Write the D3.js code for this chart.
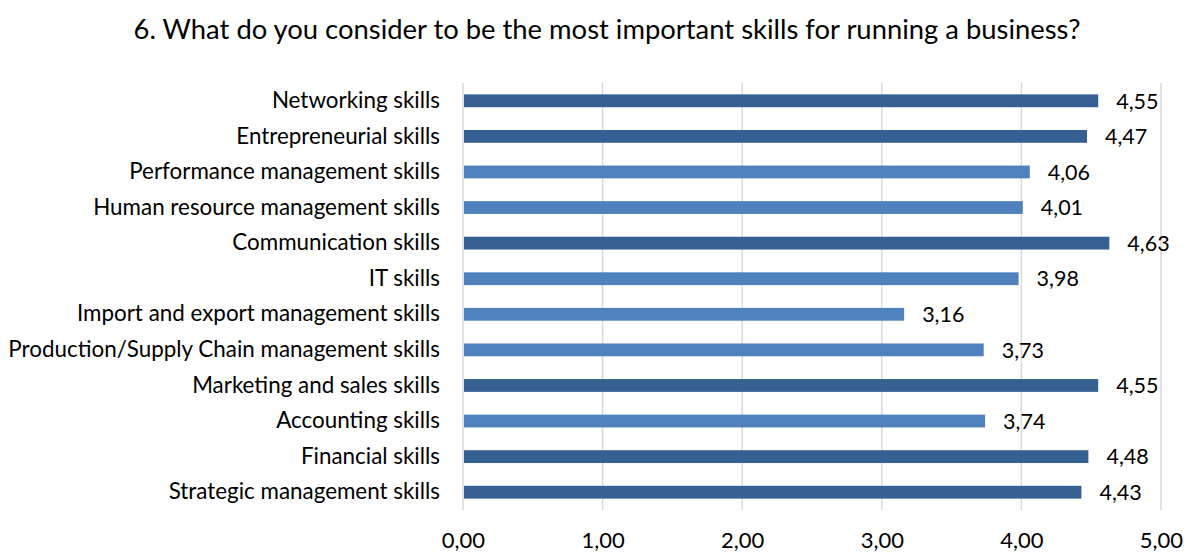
<!DOCTYPE html>
<html>
<head>
<meta charset="utf-8">
<script src="https://cdn.jsdelivr.net/npm/d3@7"></script>
<style>
  html, body { margin: 0; padding: 0; background: #fff; }
  svg { display: block; font-family: Lato, "Liberation Sans", sans-serif; }
</style>
</head>
<body>
<svg id="chart" width="1184" height="552"></svg>
<script>
const title = "6. What do you consider to be the most important skills for running a business?";
const skills = [
  "Networking skills",
  "Entrepreneurial skills",
  "Performance management skills",
  "Human resource management skills",
  "Communication skills",
  "IT skills",
  "Import and export management skills",
  "Production/Supply Chain management skills",
  "Marketing and sales skills",
  "Accounting skills",
  "Financial skills",
  "Strategic management skills"
];
const scores = [4.55, 4.47, 4.06, 4.01, 4.63, 3.98, 3.16, 3.73, 4.55, 3.74, 4.48, 4.43];
const tickValues = [0, 1, 2, 3, 4, 5];

const data = skills.map((s, i) => ({ skill: s, value: scores[i] }));
const fmt = v => d3.format(".2f")(v).replace(".", ",");

const svg = d3.select("#chart");
const margin = { left: 463, right: 23, top: 83, bottom: 42 };
const W = 1184, H = 552;

const x = d3.scaleLinear().domain([0, 5]).range([margin.left, W - margin.right]);
const y = d3.scaleBand().domain(skills).range([margin.top, H - margin.bottom]).paddingInner(0.64).paddingOuter(0.32);

// title
svg.append("text")
  .attr("x", 607).attr("y", 39)
  .attr("text-anchor", "middle")
  .attr("font-size", 27.4)
  .attr("fill", "#000")
  .text(title);

// vertical gridlines
svg.append("g").selectAll("line")
  .data(tickValues)
  .join("line")
  .attr("x1", d => x(d)).attr("x2", d => x(d))
  .attr("y1", margin.top).attr("y2", H - margin.bottom)
  .attr("stroke", "#d9d9d9")
  .attr("stroke-width", 1.5);

// bars
svg.append("g").selectAll("rect")
  .data(data)
  .join("rect")
  .attr("x", x(0) + 1)
  .attr("y", d => y(d.skill))
  .attr("width", d => x(d.value) - x(0) - 1)
  .attr("height", y.bandwidth())
  .attr("fill", d => d.value > 4.2 ? "#366092" : "#4f81bd");

// value labels
svg.append("g").selectAll("text")
  .data(data)
  .join("text")
  .attr("x", d => x(d.value) + 18)
  .attr("y", d => y(d.skill) + y.bandwidth() / 2)
  .attr("dy", "0.36em")
  .attr("font-size", 21.5)
  .attr("fill", "#000")
  .text(d => fmt(d.value));

// category axis
const yAxis = d3.axisLeft(y).tickSize(0).tickPadding(23);
svg.append("g")
  .attr("transform", `translate(${x(0)},0)`)
  .call(yAxis)
  .call(g => g.select(".domain").remove())
  .selectAll("text")
  .attr("font-size", 22.4)
  .attr("font-family", "Lato, sans-serif")
  .attr("fill", "#000");

// value axis
const xAxis = d3.axisBottom(x).tickValues(tickValues).tickFormat(fmt).tickSize(0).tickPadding(22);
svg.append("g")
  .attr("transform", `translate(0,${H - margin.bottom})`)
  .call(xAxis)
  .call(g => g.select(".domain").remove())
  .selectAll("text")
  .attr("font-size", 22)
  .attr("font-family", "Lato, sans-serif")
  .attr("fill", "#000");
</script>
</body>
</html>
